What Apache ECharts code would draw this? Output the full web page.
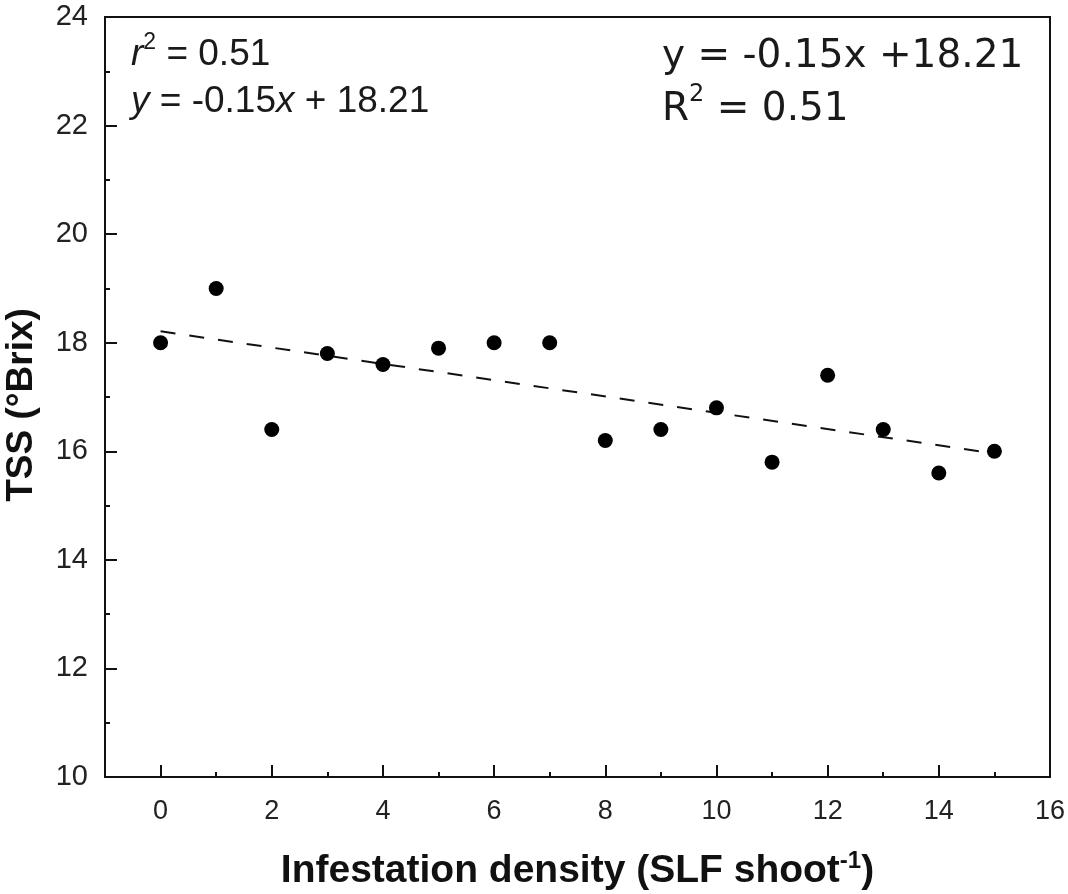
<!DOCTYPE html>
<html>
<head>
<meta charset="utf-8">
<script src="https://cdn.jsdelivr.net/npm/echarts@6/dist/echarts.min.js"></script>
<style>html,body{margin:0;padding:0;background:#fff}#c{width:1068px;height:894px}</style>
</head>
<body>
<div id="c"></div>
<script>
// Data
const densityX = [0, 1, 2, 3, 4, 5, 6, 7, 8, 9, 10, 11, 12, 13, 14, 15];
const tssY = [18.0, 19.0, 16.4, 17.8, 17.6, 17.9, 18.0, 18.0, 16.2, 16.4, 16.8, 15.8, 17.4, 16.4, 15.6, 16.0];
const trendX = [0, 15];
const trendY = [18.21, 15.96];
const xMajorTicks = [0, 2, 4, 6, 8, 10, 12, 14, 16];
const xMinorTicks = [1, 3, 5, 7, 9, 11, 13, 15];

const ink = '#111';
const chart = echarts.init(document.getElementById('c'));
const FONT = '"Liberation Sans", Arial, sans-serif';

chart.setOption({
  animation: false,
  backgroundColor: '#fff',
  grid: {
    left: 105, right: 18, top: 17, bottom: 117,
    containLabel: false, outerBoundsMode: 'none',
    show: true, borderColor: ink, borderWidth: 2, backgroundColor: 'transparent'
  },
  xAxis: [{
    type: 'value', min: -1, max: 16,
    axisLine: { show: true, onZero: false, lineStyle: { color: ink, width: 2 } },
    splitLine: { show: false },
    axisTick: { show: true, inside: true, length: 12, customValues: xMajorTicks, lineStyle: { color: ink, width: 2 } },
    axisLabel: { show: true, customValues: xMajorTicks, margin: 21, fontSize: 27, color: '#222', fontFamily: FONT },
    name: '{b|Infestation density (SLF shoot}{sup|-1}{b|)}',
    nameLocation: 'middle', nameGap: 72,
    nameTextStyle: {
      rich: {
        b: { fontSize: 39, fontWeight: 'bold', color: '#111', fontFamily: FONT },
        sup: { fontSize: 24, fontWeight: 'bold', color: '#111', fontFamily: FONT, verticalAlign: 'top', padding: [0, 0, 20, 0] }
      }
    }
  }, {
    type: 'value', min: -1, max: 16, position: 'bottom',
    axisLine: { show: false },
    splitLine: { show: false },
    axisTick: { show: true, inside: true, length: 5, customValues: xMinorTicks, lineStyle: { color: ink, width: 2 } },
    axisLabel: { show: false }
  }],
  yAxis: {
    type: 'value', min: 10, max: 24, interval: 2,
    axisLine: { show: true, onZero: false, lineStyle: { color: ink, width: 2 } },
    splitLine: { show: false },
    axisTick: { show: true, inside: true, length: 12, lineStyle: { color: ink, width: 2 } },
    minorTick: { show: true, splitNumber: 2, length: 5, lineStyle: { color: ink, width: 2 } },
    axisLabel: { margin: 17, fontSize: 29, color: '#222', fontFamily: FONT },
    name: 'TSS (°Brix)',
    nameLocation: 'middle', nameGap: 65, nameRotate: 90,
    nameTextStyle: { fontSize: 37, fontWeight: 'bold', color: '#111', fontFamily: FONT, padding: [0, 16, 0, 0] }
  },
  series: [{
    type: 'line',
    data: trendX.map((x, i) => [x, trendY[i]]),
    symbol: 'none',
    lineStyle: { color: ink, width: 2, type: [15, 14] },
    z: 2
  }, {
    type: 'scatter',
    data: densityX.map((x, i) => [x, tssY[i]]),
    symbol: 'circle', symbolSize: 15,
    itemStyle: { color: '#000', opacity: 1 },
    z: 3
  }],
  graphic: [{
    type: 'text', left: 131, top: 31,
    style: {
      text: '{i|r}{sup|2}{n| = 0.51}\n{i|y}{n| = -0.15}{i|x}{n| + 18.21}',
      rich: {
        i: { fontSize: 37, fontStyle: 'italic', fill: '#1a1a1a', fontFamily: FONT, lineHeight: 47 },
        n: { fontSize: 37, fill: '#1a1a1a', fontFamily: FONT, lineHeight: 47 },
        sup: { fontSize: 23, fill: '#1a1a1a', fontFamily: FONT, verticalAlign: 'top', lineHeight: 47, padding: [0, 0, 18, 0] }
      }
    }
  }, {
    type: 'text', left: 662, top: 37,
    style: {
      text: '{n|y = -0.15x +18.21}\n{n|R}{sup|2}{n| = 0.51}',
      rich: {
        n: { fontSize: 39, fill: '#1a1a1a', fontFamily: '"DejaVu Sans", sans-serif', lineHeight: 53 },
        sup: { fontSize: 24, fill: '#1a1a1a', fontFamily: '"DejaVu Sans", sans-serif', lineHeight: 53, verticalAlign: 'top', padding: [0, 0, 14, 0] }
      }
    }
  }]
});
</script>
</body>
</html>
